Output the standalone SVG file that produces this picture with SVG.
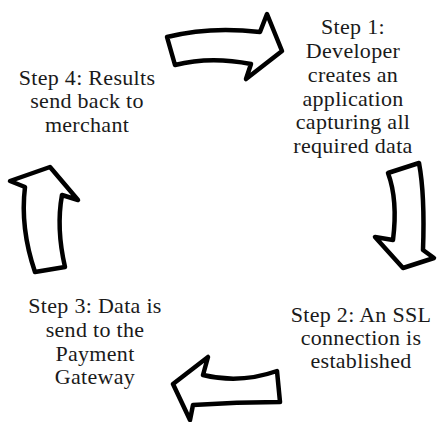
<svg xmlns="http://www.w3.org/2000/svg" width="438" height="422" viewBox="0 0 438 422">
<style>
.arrow{fill:#fff;stroke:#000;stroke-width:4.5;stroke-linejoin:round}
text{font-family:'Liberation Serif','Times New Roman',serif;font-size:22px;letter-spacing:0.3px;fill:#1a1a1a;text-anchor:middle}
</style>
<rect width="438" height="422" fill="#fff"/>
<g id="connectors">
<path id="arrow-top" class="arrow" d="M167,37 Q210,26 260,32 L267,14 L282,51 L246,79 L251,64 Q210,56 175,65 Z"/>
<path id="arrow-right" class="arrow" d="M388,173 L419,163 Q425,195 423,250 L434,258 L403,268 L375,237 L393,240 Q398,200 388,173 Z"/>
<path id="arrow-bottom" class="arrow" d="M208,357 L203,375 Q240,384 277,371 L280,402 Q237,402 193,405 L190,420 L173,384 Z"/>
<path id="arrow-left" class="arrow" d="M10,181 L50,167 L78,200 L62,195 Q56,228 65,267 L35,272 Q20,228 25,187 Z"/>
</g>
<g id="step1">
<text x="353" y="34">Step 1:</text>
<text x="353" y="58">Developer</text>
<text x="353" y="82">creates an</text>
<text x="353" y="106">application</text>
<text x="353" y="129">capturing all</text>
<text x="353" y="153">required data</text>
</g>
<g id="step2">
<text x="361" y="322">Step 2: An SSL</text>
<text x="361" y="345">connection is</text>
<text x="361" y="368">established</text>
</g>
<g id="step3">
<text x="95" y="313">Step 3: Data is</text>
<text x="95" y="337">send to the</text>
<text x="95" y="361">Payment</text>
<text x="95" y="384">Gateway</text>
</g>
<g id="step4">
<text x="87" y="85">Step 4: Results</text>
<text x="87" y="108">send back to</text>
<text x="87" y="132">merchant</text>
</g>
</svg>
